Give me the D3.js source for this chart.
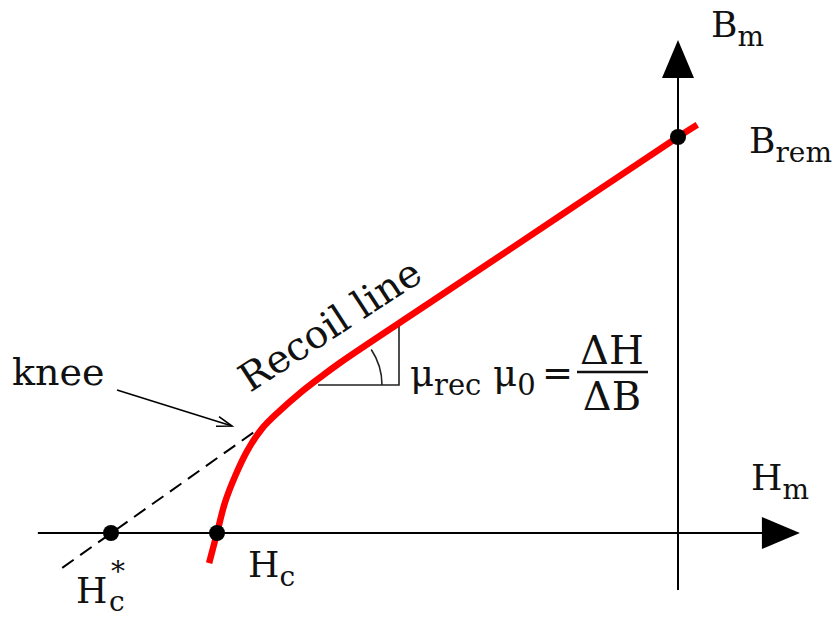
<!DOCTYPE html>
<html>
<head>
<meta charset="utf-8">
<script src="https://cdn.jsdelivr.net/npm/d3@7"></script>
<style>
  body { margin: 0; background: #fff; }
  text { font-family: "DejaVu Serif", serif; fill: #111; }
</style>
</head>
<body>
<svg id="chart"></svg>
<script>
// Demagnetisation (recoil) curve of a permanent magnet, normalised units:
// H is scaled so that the extrapolated coercivity Hc* = -1, B so that Brem = 1.
const curveH = [-0.827, -0.813, -0.799, -0.781, -0.760, -0.734, -0.702, -0.667, -0.631, -0.596, -0.432, -0.208, 0.000, 0.034];
const curveB = [-0.076, 0.000, 0.077, 0.144, 0.207, 0.263, 0.309, 0.353, 0.393, 0.430, 0.587, 0.801, 1.000, 1.031];

// Straight extension of the recoil line below the knee (dashed)
const extH = [-1.086, -0.723];
const extB = [-0.088, 0.280];

// Marked points: Hc*, Hc, Brem
const pointH = [-1.0, -0.813, 0.0];
const pointB = [0.0, 0.0, 1.0];

// Axis extents
const axisH = [-1.129, 0.215];
const axisB = [-0.144, 1.245];

const W = 837, H = 617;
const svg = d3.select("#chart").attr("width", W).attr("height", H);
svg.append("rect").attr("width", W).attr("height", H).attr("fill", "#fff");

const x = d3.scaleLinear().domain([-1, 0]).range([111, 678]);
const y = d3.scaleLinear().domain([0, 1]).range([533, 137]);

const x0 = x(0), y0 = y(0);
const arrowLen = 38, arrowHalf = 16;

// Horizontal axis (Hm)
const xEnd = x(axisH[1]);
svg.append("line")
  .attr("x1", x(axisH[0])).attr("y1", y0)
  .attr("x2", xEnd - arrowLen + 2).attr("y2", y0)
  .attr("stroke", "#000").attr("stroke-width", 2);
svg.append("path")
  .attr("d", `M${xEnd},${y0} L${xEnd - arrowLen},${y0 - arrowHalf} L${xEnd - arrowLen},${y0 + arrowHalf} Z`)
  .attr("fill", "#000");

// Vertical axis (Bm)
const yEnd = y(axisB[1]);
svg.append("line")
  .attr("x1", x0).attr("y1", y(axisB[0]))
  .attr("x2", x0).attr("y2", yEnd + arrowLen - 2)
  .attr("stroke", "#000").attr("stroke-width", 2);
svg.append("path")
  .attr("d", `M${x0},${yEnd} L${x0 - arrowHalf},${yEnd + arrowLen} L${x0 + arrowHalf},${yEnd + arrowLen} Z`)
  .attr("fill", "#000");

// Dashed extension of the recoil line
const line = d3.line().x(d => x(d[0])).y(d => y(d[1]));
svg.append("path")
  .attr("d", line(d3.zip(extH, extB)))
  .attr("fill", "none").attr("stroke", "#000").attr("stroke-width", 2)
  .attr("stroke-dasharray", "14,8");

// Slope triangle with the angle arc
const n = curveH.length;
const triY = 385, triX1 = 318, triX2 = 399;
const slope = (y(curveB[n - 5]) - y(curveB[n - 2])) / (x(curveH[n - 2]) - x(curveH[n - 5]));
const lineYat = px => y(curveB[n - 2]) + (x(curveH[n - 2]) - px) * slope;
svg.append("path")
  .attr("d", `M${triX1},${triY} L${triX2},${triY} L${triX2},${lineYat(triX2)}`)
  .attr("fill", "none").attr("stroke", "#222").attr("stroke-width", 1.6);
const r = 64, ang = Math.atan(slope);
svg.append("path")
  .attr("d", `M${triX1 + r},${triY} A${r},${r} 0 0 0 ${triX1 + r * Math.cos(ang)},${triY - r * Math.sin(ang)}`)
  .attr("fill", "none").attr("stroke", "#222").attr("stroke-width", 1.6);

// Recoil / demagnetisation curve
const curve = d3.line().x(d => x(d[0])).y(d => y(d[1])).curve(d3.curveCatmullRom.alpha(0.5));
svg.append("path")
  .attr("d", curve(d3.zip(curveH, curveB)))
  .attr("fill", "none").attr("stroke", "#ff0000").attr("stroke-width", 6.5);

// Points
svg.selectAll("circle.pt").data(d3.zip(pointH, pointB)).join("circle")
  .attr("class", "pt")
  .attr("cx", d => x(d[0])).attr("cy", d => y(d[1]))
  .attr("r", 8).attr("fill", "#000");

// Knee pointer
const kx1 = 117, ky1 = 390, kx2 = 232, ky2 = 426;
svg.append("line").attr("x1", kx1).attr("y1", ky1).attr("x2", kx2).attr("y2", ky2)
  .attr("stroke", "#000").attr("stroke-width", 1.6);
const ka = Math.atan2(ky2 - ky1, kx2 - kx1), hl = 16, hw = 0.32;
svg.append("path")
  .attr("d", `M${kx2 - hl * Math.cos(ka - hw)},${ky2 - hl * Math.sin(ka - hw)} L${kx2},${ky2} L${kx2 - hl * Math.cos(ka + hw)},${ky2 - hl * Math.sin(ka + hw)}`)
  .attr("fill", "none").attr("stroke", "#000").attr("stroke-width", 1.6);

// Labels
const FS = 36, SS = 28;
function label(px, py, main, sub, sup) {
  const t = svg.append("text").attr("x", px).attr("y", py).attr("font-size", FS);
  t.append("tspan").text(main);
  if (sup) {
    t.append("tspan").attr("font-size", SS).attr("x", px + 35).attr("dy", -22).text(sup);
    t.append("tspan").attr("font-size", SS).attr("x", px + 33).attr("dy", 30).text(sub);
  } else if (sub) {
    t.append("tspan").attr("font-size", SS).attr("dy", 9).text(sub);
  }
  return t;
}
label(711, 37, "B", "m");
label(749, 153, "B", "rem");
label(751, 490, "H", "m");
label(248, 577, "H", "c");
label(76, 603, "H", "c", "*");
svg.append("text").attr("x", 12).attr("y", 385).attr("font-size", 38).text("knee");

svg.append("text")
  .attr("transform", "translate(250,393) rotate(-33)")
  .attr("font-size", 39).text("Recoil line");

// μrec μ0 = ΔH / ΔB
const EQ = 37, EQS = 29;
const eq = svg.append("text").attr("x", 410).attr("y", 386).attr("font-size", EQ);
eq.append("tspan").text("μ");
eq.append("tspan").attr("font-size", EQS).attr("dy", 9).text("rec");
eq.append("tspan").attr("dy", -9).text(" μ");
eq.append("tspan").attr("font-size", EQS).attr("dy", 9).text("0");
eq.append("tspan").attr("dy", -9).attr("x", 542).text("=");
svg.append("text").attr("x", 612).attr("y", 364).attr("font-size", 40).attr("text-anchor", "middle").text("ΔH");
svg.append("text").attr("x", 612).attr("y", 410).attr("font-size", 40).attr("text-anchor", "middle").text("ΔB");
svg.append("line").attr("x1", 577).attr("x2", 648).attr("y1", 372).attr("y2", 372)
  .attr("stroke", "#111").attr("stroke-width", 2.5);
</script>
</body>
</html>
